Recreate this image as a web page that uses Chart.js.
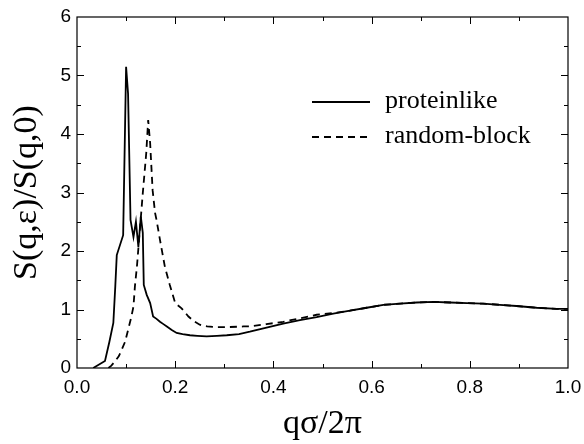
<!DOCTYPE html>
<html>
<head>
<meta charset="utf-8">
<script src="https://cdn.jsdelivr.net/npm/chart.js@4.4.1/dist/chart.umd.min.js"></script>
<style>
  html, body { margin: 0; padding: 0; background: #fff; }
  #wrap { width: 584px; height: 444px; }
</style>
</head>
<body>
<div id="wrap"><canvas id="c" width="584" height="444"></canvas></div>
<script>
// ---- data ----
const seriesNames = ['proteinlike', 'random-block'];

const qProtein = [0.033, 0.057, 0.066, 0.074, 0.078, 0.081, 0.094, 0.100, 0.104, 0.109, 0.115, 0.120, 0.125, 0.130, 0.134, 0.136, 0.142, 0.149, 0.155, 0.162, 0.169, 0.176, 0.183, 0.193, 0.203, 0.215, 0.230, 0.245, 0.264, 0.285, 0.305, 0.330, 0.352, 0.386, 0.420, 0.454, 0.488, 0.522, 0.556, 0.590, 0.624, 0.658, 0.692, 0.726, 0.760, 0.794, 0.827, 0.861, 0.895, 0.936, 0.977, 1.000];
const sProtein = [0.00, 0.12, 0.45, 0.77, 1.40, 1.93, 2.27, 5.15, 4.69, 2.53, 2.24, 2.50, 2.07, 2.59, 2.31, 1.42, 1.25, 1.11, 0.88, 0.84, 0.79, 0.75, 0.71, 0.65, 0.60, 0.58, 0.56, 0.55, 0.54, 0.55, 0.56, 0.58, 0.62, 0.69, 0.76, 0.82, 0.87, 0.93, 0.98, 1.03, 1.08, 1.10, 1.12, 1.13, 1.12, 1.11, 1.10, 1.08, 1.06, 1.03, 1.01, 1.01];

const qRandom = [0.064, 0.070, 0.077, 0.085, 0.091, 0.098, 0.104, 0.110, 0.115, 0.118, 0.122, 0.128, 0.134, 0.141, 0.145, 0.149, 0.154, 0.159, 0.162, 0.169, 0.179, 0.189, 0.200, 0.213, 0.220, 0.227, 0.238, 0.250, 0.265, 0.285, 0.310, 0.339, 0.352, 0.386, 0.420, 0.454, 0.488, 0.522, 0.556, 0.590, 0.624, 0.658, 0.692, 0.726, 0.760, 0.794, 0.827, 0.861, 0.895, 0.936, 0.977, 1.000];
const sRandom = [0.00, 0.04, 0.11, 0.20, 0.31, 0.45, 0.65, 0.85, 1.05, 1.40, 1.73, 2.36, 2.99, 3.67, 4.24, 3.84, 3.04, 2.65, 2.53, 2.19, 1.73, 1.42, 1.11, 1.02, 0.95, 0.88, 0.80, 0.74, 0.71, 0.70, 0.70, 0.71, 0.71, 0.75, 0.79, 0.85, 0.91, 0.94, 0.98, 1.03, 1.08, 1.10, 1.12, 1.13, 1.12, 1.11, 1.10, 1.08, 1.06, 1.03, 1.01, 1.01];

const xTitle = 'qσ/2π';
const yTitle = 'S(q,ε)/S(q,0)';

function pts(xs, ys) { return xs.map((v, i) => ({ x: v, y: ys[i] })); }

const serif = "'Liberation Serif', 'DejaVu Serif', serif";
const sans = "'Liberation Sans', Arial, sans-serif";

// frame + inward ticks on all four sides
const framePlugin = {
  id: 'frame',
  afterDraw(chart) {
    const { ctx, chartArea: a, scales: { x, y } } = chart;
    ctx.save();
    ctx.strokeStyle = '#000';
    ctx.lineWidth = 1.2;
    ctx.strokeRect(a.left, a.top, a.right - a.left, a.bottom - a.top);
    ctx.lineWidth = 1;
    ctx.beginPath();
    for (let i = 1; i < 10; i++) {
      const v = x.min + i * (x.max - x.min) / 10;
      const px = Math.round(x.getPixelForValue(v)) + 0.5;
      const len = i % 2 === 0 ? 7 : 4;
      ctx.moveTo(px, a.bottom); ctx.lineTo(px, a.bottom - len);
      ctx.moveTo(px, a.top); ctx.lineTo(px, a.top + len);
    }
    for (let i = 1; i < 12; i++) {
      const v = y.min + i * (y.max - y.min) / 12;
      const py = Math.round(y.getPixelForValue(v)) + 0.5;
      const len = i % 2 === 0 ? 7 : 4;
      ctx.moveTo(a.left, py); ctx.lineTo(a.left + len, py);
      ctx.moveTo(a.right, py); ctx.lineTo(a.right - len, py);
    }
    ctx.stroke();
    ctx.restore();
  }
};

// legend drawn inside plot area
const legendPlugin = {
  id: 'inlegend',
  afterDatasetsDraw(chart) {
    const { ctx, chartArea: a } = chart;
    const x0 = a.left + 235, y0 = a.top + 85, gap = 35;
    ctx.save();
    chart.data.datasets.forEach((ds, i) => {
      const yy = y0 + i * gap;
      ctx.strokeStyle = ds.borderColor;
      ctx.lineWidth = ds.borderWidth;
      ctx.setLineDash(ds.borderDash || []);
      ctx.beginPath();
      ctx.moveTo(x0, yy); ctx.lineTo(x0 + 58, yy);
      ctx.stroke();
      ctx.setLineDash([]);
      ctx.fillStyle = '#000';
      ctx.font = '26px ' + serif;
      ctx.textBaseline = 'middle';
      ctx.textAlign = 'left';
      ctx.fillText(ds.label, x0 + 73, yy - 1);
    });
    ctx.restore();
  }
};

new Chart(document.getElementById('c'), {
  type: 'line',
  data: {
    datasets: [
      { label: seriesNames[0], data: pts(qProtein, sProtein), borderColor: '#000', borderWidth: 1.8, pointRadius: 0, tension: 0, fill: false },
      { label: seriesNames[1], data: pts(qRandom, sRandom), borderColor: '#000', borderWidth: 1.8, borderDash: [7, 5], pointRadius: 0, tension: 0, fill: false }
    ]
  },
  options: {
    responsive: false,
    devicePixelRatio: 1,
    animation: false,
    layout: { padding: { top: 17, right: 16, left: 0, bottom: 0 } },
    plugins: { legend: { display: false }, tooltip: { enabled: false } },
    scales: {
      x: {
        type: 'linear', min: 0, max: 1,
        grid: { display: false, drawTicks: false },
        border: { display: false },
        ticks: { stepSize: 0.2, padding: 8, color: '#000', font: { family: sans, size: 19 }, callback: v => v.toFixed(1), maxRotation: 0 },
        title: { display: true, text: xTitle, color: '#000', font: { family: serif, size: 34 }, padding: { top: 0, bottom: 0 } },
        afterFit(s) { s.height = 76; s.paddingLeft = 0; s.paddingRight = 0; }
      },
      y: {
        type: 'linear', min: 0, max: 6,
        grid: { display: false, drawTicks: false },
        border: { display: false },
        ticks: { stepSize: 1, padding: 6, color: '#000', font: { family: sans, size: 19 }, callback: v => String(v) },
        title: { display: true, text: yTitle, color: '#000', font: { family: serif, size: 34 }, padding: { top: 7, bottom: 0 } },
        afterFit(s) { s.width = 77; s.paddingTop = 0; s.paddingBottom = 0; }
      }
    }
  },
  plugins: [framePlugin, legendPlugin]
});
</script>
</body>
</html>
